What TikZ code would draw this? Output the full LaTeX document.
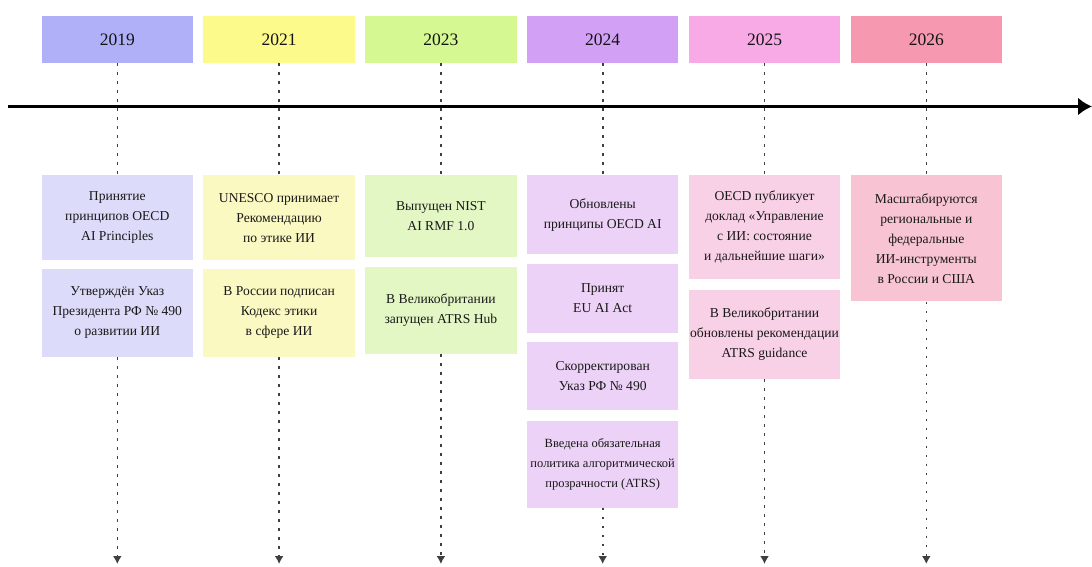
\documentclass[tikz,border=0pt]{standalone}
\usepackage{fontspec}
\setmainfont{Liberation Serif}
\usetikzlibrary{positioning}
\usetikzlibrary{arrows.meta}
% Farben Jahre
\definecolor{yr19}{HTML}{AFB0F8}
\definecolor{yr21}{HTML}{FDFA8C}
\definecolor{yr23}{HTML}{D6F893}
\definecolor{yr24}{HTML}{D2A0F5}
\definecolor{yr25}{HTML}{F8AAE6}
\definecolor{yr26}{HTML}{F798B1}
% Farben Ereignisse
\definecolor{ev19}{HTML}{DCDCFA}
\definecolor{ev21}{HTML}{FBF9C2}
\definecolor{ev23}{HTML}{E3F7C4}
\definecolor{ev24}{HTML}{EDD2F7}
\definecolor{ev25}{HTML}{F9D1E7}
\definecolor{ev26}{HTML}{F8C4D4}

\begin{document}
\begin{tikzpicture}[x=1pt,y=-1pt,
	yearbox/.style={fill=#1, minimum width=151.5pt, minimum height=47pt, inner sep=0pt,
		font=\fontsize{17.5}{20}\selectfont, text=black!92},
	evbox/.style={fill=#1, minimum width=151.5pt, inner sep=0pt, align=center,
		font=\fontsize{13.6}{20}\selectfont, text=black!90},
	dots/.style={line width=1.6pt, dash pattern=on 2.5pt off 6.5pt, black!75}]

\def\xnull{117.3}
\def\dx{161.8}
\def\yend{564}

\useasboundingbox (0,0) rectangle (1092,567);

% Zeitachse
\draw[line width=2.6pt, -{Latex[length=14pt,width=18pt]}] (8,106.5) -- (1092,106.5);

% Jahre
\foreach \yr/\col [count=\i from 0] in {2019/yr19,2021/yr21,2023/yr23,2024/yr24,2025/yr25,2026/yr26}{
	\node[yearbox=\col] (y\yr) at ({\xnull+\i*\dx},39.5) {\yr};
	\coordinate (a\yr) at ({\xnull+\i*\dx},\yend);
}

% 2019
\node[evbox=ev19, minimum height=85pt, below=112pt of y2019] (e2019a) {Принятие\\принципов OECD\\AI Principles};
\node[evbox=ev19, minimum height=88pt, below=8pt of e2019a] (e2019b) {Утверждён Указ\\Президента РФ № 490\\о развитии ИИ};

% 2021
\node[evbox=ev21, minimum height=85pt, below=112pt of y2021] (e2021a) {UNESCO принимает\\Рекомендацию\\по этике ИИ};
\node[evbox=ev21, minimum height=88pt, below=8pt of e2021a] (e2021b) {В России подписан\\Кодекс этики\\в сфере ИИ};

% 2023
\node[evbox=ev23, minimum height=82pt, below=112pt of y2023] (e2023a) {Выпущен NIST\\AI RMF 1.0};
\node[evbox=ev23, minimum height=87pt, below=9pt of e2023a] (e2023b) {В Великобритании\\запущен ATRS Hub};

% 2024
\node[evbox=ev24, minimum height=79pt, below=112pt of y2024] (e2024a) {Обновлены\\принципы OECD AI};
\node[evbox=ev24, minimum height=69pt, below=9pt of e2024a] (e2024b) {Принят\\EU AI Act};
\node[evbox=ev24, minimum height=68pt, below=9pt of e2024b] (e2024c) {Скорректирован\\Указ РФ № 490};
\node[evbox=ev24, minimum height=87pt, below=10pt of e2024c, font=\fontsize{12.5}{20}\selectfont] (e2024d) {Введена обязательная\\политика алгоритмической\\прозрачности (ATRS)};

% 2025
\node[evbox=ev25, minimum height=104pt, below=112pt of y2025] (e2025a) {OECD публикует\\доклад «Управление\\с ИИ: состояние\\и дальнейшие шаги»};
\node[evbox=ev25, minimum height=89pt, below=10pt of e2025a] (e2025b) {В Великобритании\\обновлены рекомендации\\ATRS guidance};

% 2026
\node[evbox=ev26, minimum height=126pt, below=112pt of y2026] (e2026a) {Масштабируются\\региональные и\\федеральные\\ИИ-инструменты\\в России и США};

% gepunktete Linien
\foreach \yr/\last in {2019/b,2021/b,2023/b,2024/d,2025/b,2026/a}{
	\draw[dots] (y\yr) -- (e\yr a);
	\draw[dots, -{Latex[length=8pt,width=9pt]}] (e\yr\last) -- (a\yr);
}
\end{tikzpicture}
\end{document}
